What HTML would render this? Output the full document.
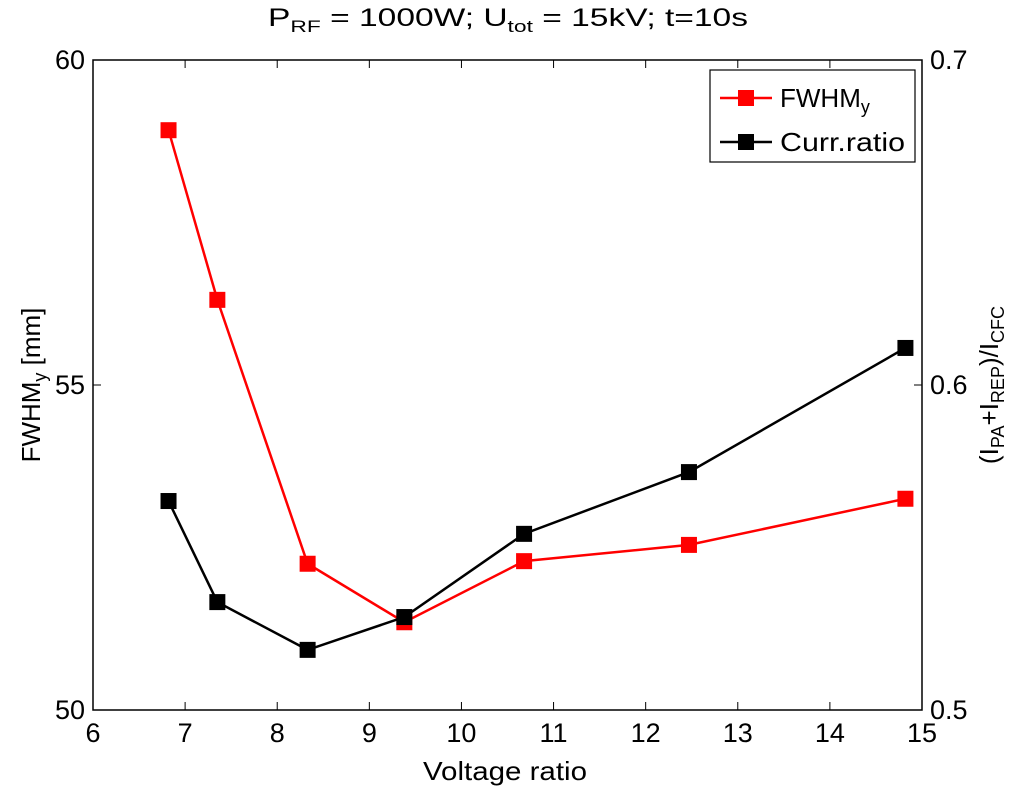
<!DOCTYPE html>
<html><head><meta charset="utf-8"><style>
body{margin:0;background:#fff;}
text{font-family:"Liberation Sans",Arial,sans-serif;fill:#000;}
</style></head><body>
<svg id="chart" width="1015" height="788" xmlns="http://www.w3.org/2000/svg">
<rect width="1015" height="788" fill="#fff"/>
<g id="g"></g>
</svg>
<script>
const xCats=[6.82,7.35,8.33,9.38,10.68,12.47,14.82];
const fwhm=[58.92,56.31,52.25,51.35,52.29,52.54,53.25];
const curr=[0.5643,0.5332,0.5185,0.5286,0.5542,0.5732,0.6114];
const xTicks=[6,7,8,9,10,11,12,13,14,15];
const yLTicks=[50,55,60];
const yRTicks=[0.5,0.6,0.7];
const L=93,R=922,T=60,B=710;
const xs=v=>L+(v-6)/9*(R-L);
const yl=v=>B-(v-50)/10*(B-T);
const yr=v=>B-(v-0.5)/0.2*(B-T);
const g=document.getElementById('g');
const NS='http://www.w3.org/2000/svg';
function mk(t,a,p){const e=document.createElementNS(NS,t);for(const k in a)e.setAttribute(k,a[k]);(p||g).appendChild(e);return e;}
let e=mk('rect',{x:L,y:T,width:R-L,height:B-T,fill:'none',stroke:'#000','stroke-width':1.5});


xTicks.forEach(v=>{const x=xs(v);
 mk('line',{x1:x,x2:x,y1:B,y2:B-8,stroke:'#000'});mk('line',{x1:x,x2:x,y1:T,y2:T+8,stroke:'#000'});
 const t=mk('text',{x:x,y:B+32,'text-anchor':'middle','font-size':27});t.textContent=v;
 
 });
yLTicks.forEach(v=>{const y=yl(v);
 mk('line',{x1:L,x2:L+8,y1:y,y2:y,stroke:'#000'});
 const t=mk('text',{x:L-8,y:y+9,'text-anchor':'end','font-size':27});t.textContent=v;
 
 });
yRTicks.forEach(v=>{const y=yr(v);
 mk('line',{x1:R,x2:R-8,y1:y,y2:y,stroke:'#000'});
 const t=mk('text',{x:R+8,y:y+9,'font-size':27});t.textContent=v;
 
 });
function series(vals,ys,col,name){
 const pts=xCats.map((x,i)=>xs(x)+','+ys(vals[i])).join(' ');
 const l=mk('polyline',{points:pts,fill:'none',stroke:col,'stroke-width':2.5});
 
 
 xCats.forEach((x,i)=>{const m=mk('rect',{x:xs(x)-8,y:ys(vals[i])-8,width:16,height:16,fill:col});
 
 });
}
series(fwhm,yl,'#f00','fwhm');
series(curr,yr,'#000','curr-ratio');
</script>
<svg style="position:absolute;left:0;top:0" width="1015" height="788">
<text x="268" y="26" font-size="25" textLength="480" lengthAdjust="spacingAndGlyphs">P<tspan font-size="17" dy="6">RF</tspan><tspan dy="-6"> = 1000W; U</tspan><tspan font-size="17" dy="6">tot</tspan><tspan dy="-6"> = 15kV; t=10s</tspan></text>
<text x="423" y="780" font-size="26" textLength="164" lengthAdjust="spacingAndGlyphs">Voltage ratio</text>
<text transform="translate(40,385) rotate(-90)" text-anchor="middle" font-size="26">FWHM<tspan font-size="18" dy="6">y</tspan><tspan dy="-6"> [mm]</tspan></text>
<text transform="translate(998,385) rotate(-90)" text-anchor="middle" font-size="26">(I<tspan font-size="18" dy="6">PA</tspan><tspan dy="-6">+I</tspan><tspan font-size="18" dy="6">REP</tspan><tspan dy="-6">)/I</tspan><tspan font-size="18" dy="6">CFC</tspan></text>
<g>
<rect x="710" y="70" width="205" height="92" fill="#fff" stroke="#000" stroke-width="1.2"/>
<line x1="720" x2="772" y1="98" y2="98" stroke="#f00" stroke-width="2.5"/><rect x="738" y="90" width="16" height="16" fill="#f00"/>
<text x="780" y="107" font-size="26">FWHM<tspan font-size="18" dy="6">y</tspan></text>
<line x1="720" x2="772" y1="142" y2="142" stroke="#000" stroke-width="2.5"/><rect x="738" y="134" width="16" height="16" fill="#000"/>
<text x="780" y="151" font-size="26" textLength="125" lengthAdjust="spacingAndGlyphs">Curr.ratio</text>
</g>
</svg>
</body></html>
